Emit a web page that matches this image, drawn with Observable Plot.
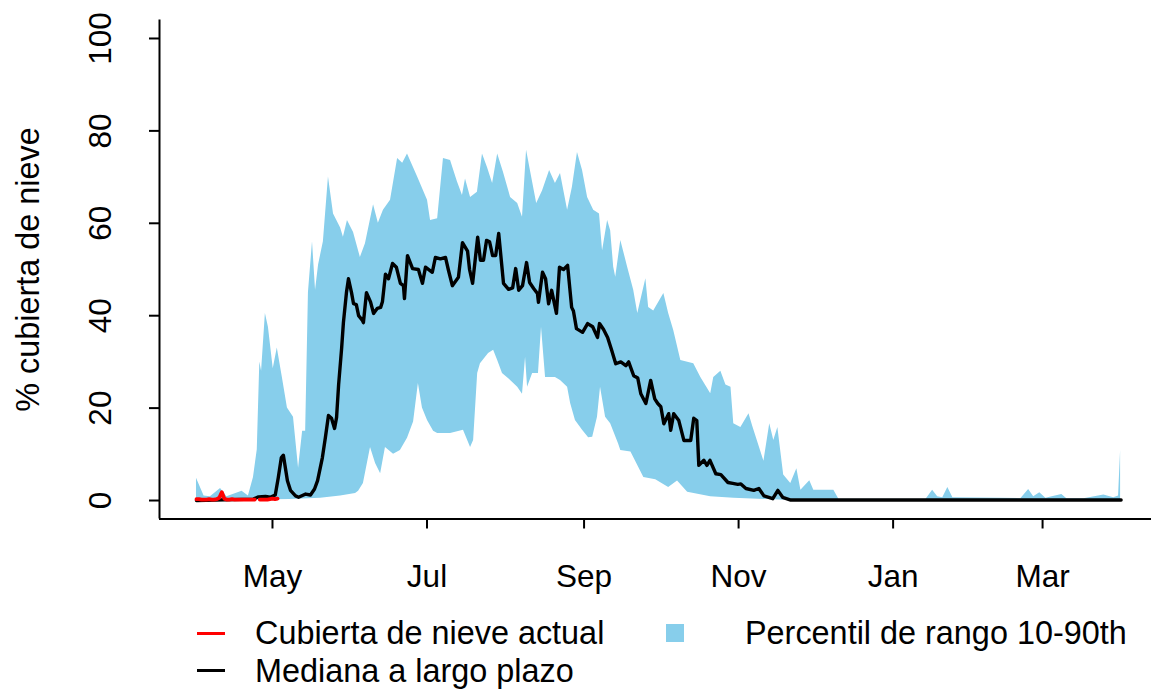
<!DOCTYPE html>
<html>
<head>
<meta charset="utf-8">
<script src="https://cdn.jsdelivr.net/npm/d3@7"></script>
<script src="https://cdn.jsdelivr.net/npm/@observablehq/plot@0.6"></script>
<style>
  html, body { margin: 0; padding: 0; background: #fff; }
  #wrap { position: relative; width: 1151px; height: 690px; font-family: "Liberation Sans", Arial, Helvetica, sans-serif; color: #000; }
  #chart svg { display: block; }
  .lg { position: absolute; }
  .lgtext { position: absolute; font-size: 32.4px; line-height: 36px; white-space: nowrap; }
</style>
</head>
<body>
<div id="wrap">
  <div id="chart"></div>
  <div class="lg" style="left:197px; top:632px; width:28px; height:2.5px; background:#ff0000;"></div>
  <div class="lgtext" style="left:255px; top:615px;">Cubierta de nieve actual</div>
  <div class="lg" style="left:666px; top:624px; width:18px; height:18px; background:#87CEEB;"></div>
  <div class="lgtext" style="left:745px; top:615px;">Percentil de rango 10-90th</div>
  <div class="lg" style="left:197px; top:669px; width:28px; height:2.5px; background:#000;"></div>
  <div class="lgtext" style="left:255px; top:653px;">Mediana a largo plazo</div>
</div>
<script>
// Season starts 1 April; x values are days since season start
const seasonStart = "2022-04-01";
const yTitle = "% cubierta de nieve";
const yTicks = [0, 20, 40, 60, 80, 100];
const monthTickDates = ["2022-05-01", "2022-07-01", "2022-09-01", "2022-11-01", "2023-01-01", "2023-03-01"];
const monthLabels = ["May", "Jul", "Sep", "Nov", "Jan", "Mar"];

// 90th percentile (upper edge of band)
const p90Day = [0,3,5.5,9.5,12,18,20.5,22.5,24,25,25.7,27.2,28.4,30.3,31.9,33.9,35.9,38.3,40.3,41.9,43.1,44.2,45.8,47,48.2,50.1,52.1,54.1,56.9,58,59.6,62,64.7,66.7,69.9,71.8,73.8,76.6,79.4,81.4,83.3,87.3,91.2,92.4,95.2,97.5,100.3,103,105,106.2,108.2,110.9,112.9,114.9,116.9,118.9,121.2,124,126.8,128.7,130.3,132.3,134.3,136.6,139.4,141.7,143.7,146.5,148.4,150.4,152.4,154.4,156.8,159.1,160.3,162.3,163.5,164.7,165.5,167.5,170.2,172.6,174.2,177.4,178.5,180.5,184.5,186.4,188.4,191.2,196.3,199.1,203,204.2,207,209,211,212.1,214.9,218.1,219.6,224,226.3,227.9,229.5,231.8,234.6,237,238.6,242.1,243.7,251.6,253.6,288,290.6,292.6,294.6,296.6,298.6,317.5,325.4,328.5,330.5,332.9,335.3,341.6,343.6,350.3,358.2,362.1,364,364.8];
const p90Value = [4.8,1.0,0.8,2.6,0.8,2.0,1.0,5,11,30,28,40.5,37.5,28.5,33,26.6,20,18,7,15,15,45,56,45.5,51,56,70,62,59,57,60.6,58,52.6,55.6,64,60,62.8,65,74,73,75,70,65,60.6,61,74,73.6,69,66,69.6,65.6,66.7,75,72,68.6,75,71,65.6,64.3,61.3,75.8,70,64.3,67,71.4,68.6,70.8,62.8,67.8,75.3,71.4,65.6,62.8,62,54,60.6,58.4,50.5,48.3,56.3,50.5,45.5,40.5,48,41.8,41,44.8,40.5,36.8,30.3,29.6,26.6,23.1,26.6,28,25,24.5,16.6,15.8,18.8,16,8.5,16.6,13,15.8,5.5,3.7,6.9,2.2,4.3,2.2,2.2,0.3,0.3,2.2,0.8,0.6,2.8,0.6,0.5,0.4,2.4,0.8,1.7,0.5,1.3,0.4,0.4,1.2,0.6,1,10.8];

// 10th percentile (lower edge of band)
const p10Day = [0,37,49,56.9,62.8,64,65.9,68.7,70.7,72.7,74.6,77.8,80.5,83.3,85.7,87.6,89.2,91.2,93.6,95.2,100.3,105.4,108.2,109.4,111,112.1,115.3,117.3,118.9,120.8,124,126.8,128.7,129.9,130.7,132.7,135,136.2,137.8,141.7,143.7,146.5,147.7,149.6,152.4,154.8,156.4,158.3,159.5,161.5,163.5,166.6,167.5,171.5,176.6,181.3,186.4,189.9,193.9,203,212.1,225.5,234.6,365];
const p10Value = [0,0.2,0.5,1,1.5,2,3.7,11.5,8,5.8,11.5,10,10.8,13.5,17,25.3,20,17.3,15,14.5,14.5,15.2,11.5,13,27.5,29.6,31.8,32.5,30.3,27.5,26,24.5,23,31,24.5,27.5,27.5,37.5,26.6,26.6,26,24.5,21,17.3,15.2,13.6,13.7,18,24.5,18,16.6,12.3,10.8,10.5,5,4.5,2.8,4.2,1.8,0.8,0.5,0.2,0,0];

// Long-term median
const medianDay = [0,22.5,24.5,27.2,29.1,31.1,32.3,33.5,34.3,35.9,37.1,39.1,40.3,43.1,45,46.6,47.8,49.7,50.9,52.1,53.3,54.5,55.3,56.1,57.3,58,59.2,60,61.2,62,63.1,64,65.5,65.9,67.1,68.7,69.9,71.4,72.7,73.4,74.6,75.8,77.4,78.9,80.5,81.7,82.1,83.3,85.3,87.6,89.2,90.4,93.1,94.3,96.3,98.3,99.4,101,103.4,105,107,107.8,109,111,112.1,113.3,114.5,115.7,116.9,118.1,119.3,121.2,123.2,124.8,126,127.2,128.7,130.3,131.5,133.1,134.6,135,136.6,137.8,139,140.2,142.1,143.3,144.9,146.5,148.1,148.8,150,152.4,154.4,156.4,158.3,159.1,160.7,162.3,163.9,165.5,167.5,169.5,170.6,172.6,174.2,175.4,177.4,179.3,180.9,182.1,183.3,184.5,186.4,187.2,188.4,190.4,192.4,195.1,196.3,197.5,198.3,200.3,201.5,202.7,205,207,209.8,211.7,213.7,214.9,216.9,220,222,224,227.5,229.5,231.4,234.6,365];
const medianValue = [0,0.3,0.8,0.9,0.7,1.2,5,9.3,9.8,4.3,2.2,1.0,0.7,1.4,1.2,2.5,4.3,9.3,13.7,18.4,17.8,15.6,18,25,33,38.5,45,48,45,42.6,42.4,40,39,38.5,45,43,40.5,41.6,41.8,43,49,48,51.3,50.5,47,46.5,43.7,53,50.2,50,47,50.5,49.4,52.6,52.3,52.6,50,46.5,48.3,55.8,54,50,47,57,52,52,56.3,56,53,53,57.8,47,45.7,46,50.2,45.5,46.5,51.5,47.2,45.9,44.8,42.9,49.4,48,42.6,45.5,40.5,50.5,50,50.9,41.8,41,37.2,36.4,38.3,37.6,35.3,38.3,37,35.3,32.5,29.6,30,29.2,30,27,26.5,23.1,21,26,22,21,20.3,16.6,18.8,15.2,18.8,17.3,13,13,17.8,17.3,7.6,8.7,7.6,8.7,5.8,5.6,3.9,3.7,3.5,3.6,2.6,2.2,2.6,1,0.4,2.2,0.7,0.1,0.1];

// Current season snow cover (red), daily from 1 April
const actualDay = [0,1,2,3,4,5,6,7,8,9,10,11,12,13,14,15,16,17,18,19,20,21,22,23,24,25,26,27,28,29,30,31,32];
const actualValue = [0.3,0.3,0.2,0.2,0.2,0.3,0.2,0.2,0.3,0.6,1.8,0.4,0.2,0.2,0.3,0.2,0.2,0.2,0.2,0.2,0.2,0.2,0.2,0.2,null,0.2,0.2,0.2,0.2,0.3,0.4,0.3,0.4];

const base = new Date(seasonStart + "T00:00:00Z").getTime();
const toDate = d => new Date(base + d * 86400000);
const rows = (days, vals) => days.map((d, i) => ({date: toDate(d), v: vals[i]}));

const upper = rows(p90Day, p90Value);
const lower = rows(p10Day, p10Value);
const median = rows(medianDay, medianValue);
const actual = rows(actualDay, actualValue);
const tickDates = monthTickDates.map(s => new Date(s + "T00:00:00Z"));
const xStart = toDate(-14.6);
const xEnd = toDate(377.0);

const chart = Plot.plot({
  width: 1151,
  height: 600,
  marginLeft: 159,
  marginRight: 0,
  marginTop: 19.5,
  marginBottom: 81.5,
  style: {fontFamily: '"Liberation Sans", Arial, Helvetica, sans-serif', fontSize: "31px", color: "#000", background: "#fff"},
  x: {type: "utc", domain: [xStart, xEnd], label: null},
  y: {domain: [-4, 104], label: null},
  marks: [
    Plot.areaY(upper, {x: "date", y: "v", fill: "#87CEEB"}),
    Plot.areaY(lower, {x: "date", y: "v", fill: "#ffffff"}),
    Plot.line(median, {x: "date", y: "v", stroke: "#000", strokeWidth: 3.4}),
    Plot.line(actual, {x: "date", y: "v", stroke: "#ff0000", strokeWidth: 3.8}),
    Plot.ruleY([-4], {stroke: "#000", strokeWidth: 2}),
    Plot.ruleX([xStart], {stroke: "#000", strokeWidth: 2}),
    Plot.axisX({ticks: tickDates, tickSize: 10, tickPadding: 36, strokeWidth: 2, fontSize: 31.5, label: null,
      tickFormat: d => monthLabels[tickDates.findIndex(t => +t === +d)]}),
    Plot.axisY({ticks: yTicks, tickSize: 10, strokeWidth: 2, label: null, tickFormat: () => ""}),
    Plot.text(yTicks, {y: d => d, text: d => String(d), frameAnchor: "left", textAnchor: "middle", dx: -59, rotate: -90, fontSize: 31.5}),
    Plot.text([yTitle], {frameAnchor: "left", textAnchor: "middle", dx: -131, rotate: -90, fontSize: 32.4})
  ]
});
document.getElementById("chart").appendChild(chart);
</script>
</body>
</html>
